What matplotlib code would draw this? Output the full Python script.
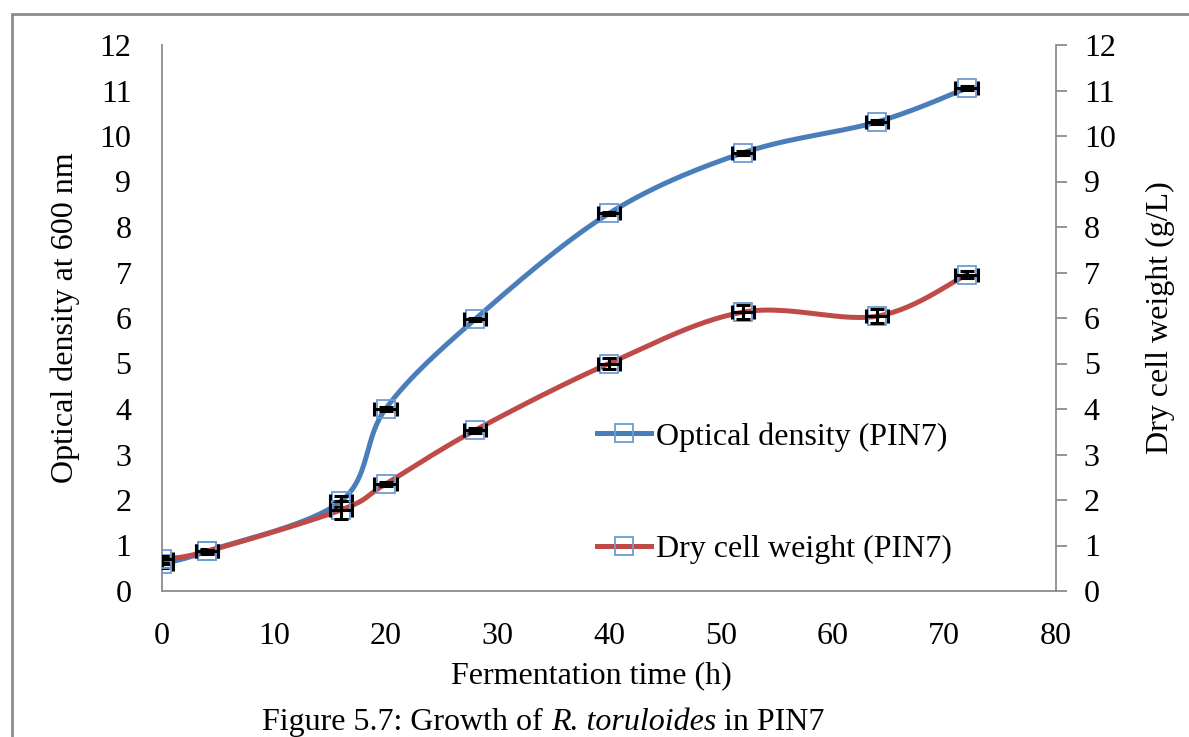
import numpy as np
import matplotlib
matplotlib.use('Agg')
import matplotlib.pyplot as plt
from matplotlib.lines import Line2D
from matplotlib.patches import Rectangle

plt.rcParams['font.family'] = ['Liberation Serif', 'DejaVu Serif']

# dados
tempo = [0, 4, 16, 20, 28, 40, 52, 64, 72]
od = [0.6, 0.87, 1.97, 4.0, 5.97, 8.3, 9.63, 10.31, 11.05]
dcw = [0.7, 0.87, 1.78, 2.35, 3.53, 5.0, 6.13, 6.04, 6.95]
od_err = [0.1, 0.05, 0.12, 0.05, 0.04, 0.04, 0.04, 0.05, 0.04]
dcw_err = [0.08, 0.04, 0.2, 0.05, 0.05, 0.13, 0.15, 0.15, 0.08]
tempo_err = [1, 1, 1, 1, 1, 1, 1, 1, 1]

x_ticks = [0, 10, 20, 30, 40, 50, 60, 70, 80]
y_ticks = list(range(0, 13))

azul = '#4A7EBB'
vermelho = '#BE4B48'
borda_marcador = '#6E9BD3'
cinza = '#8C8C8C'
fs = 23


def suavizar(x, y, sx, sy, n=30):
    # curva suavizada tipo Excel (Catmull-Rom) em escala de pixels
    px = np.asarray(x, float) * sx
    py = np.asarray(y, float) * sy
    pts = np.column_stack([px, py])
    pts = np.vstack([pts[0], pts, pts[-1]])
    saida = []
    for i in range(1, len(pts) - 2):
        p0, p1, p2, p3 = pts[i - 1], pts[i], pts[i + 1], pts[i + 2]
        c1 = p1 + (p2 - p0) / 6
        c2 = p2 - (p3 - p1) / 6
        t = np.linspace(0, 1, n)[:, None]
        b = ((1 - t) ** 3) * p1 + 3 * ((1 - t) ** 2) * t * c1 + 3 * (1 - t) * t ** 2 * c2 + t ** 3 * p2
        saida.append(b if i == 1 else b[1:])
    saida = np.vstack(saida)
    return saida[:, 0] / sx, saida[:, 1] / sy


fig = plt.figure(figsize=(11.89, 7.37), dpi=100)
W, H = 1189, 737
x0, x1, y0, y1 = 162, 1056, 591, 45
ax = fig.add_axes([x0 / W, (H - y0) / H, (x1 - x0) / W, (y0 - y1) / H])
ax2 = ax.twinx()

sx = (x1 - x0) / 80
sy = (y0 - y1) / 12

xs, ys = suavizar(tempo, od, sx, sy)
ax.plot(xs, ys, color=azul, lw=3.6, solid_capstyle='round', zorder=2)
xs, ys = suavizar(tempo, dcw, sx, sy)
ax2.plot(xs, ys, color=vermelho, lw=3.6, solid_capstyle='round', zorder=2)

ax.plot(tempo, od, ls='none', marker='s', ms=12.5, mfc='none', mec=borda_marcador, mew=1.3, zorder=3)
ax2.plot(tempo, dcw, ls='none', marker='s', ms=12.5, mfc='none', mec=borda_marcador, mew=1.3, zorder=3)

ax.errorbar(tempo, od, xerr=tempo_err, yerr=od_err, fmt='none', ecolor='black', elinewidth=2.2,
            capsize=5, capthick=2.2, zorder=4)
ax2.errorbar(tempo, dcw, xerr=tempo_err, yerr=dcw_err, fmt='none', ecolor='black', elinewidth=2.2,
             capsize=5, capthick=2.2, zorder=4)

for a in (ax, ax2):
    a.set_xlim(0, 80)
    a.set_ylim(0, 12)
    a.set_yticks(y_ticks)
    a.spines['top'].set_visible(False)
    for s in a.spines.values():
        s.set_color(cinza)
        s.set_linewidth(1.3)

ax.set_xticks(x_ticks)
ax.tick_params(axis='x', length=0, pad=22, labelsize=fs)
ax.tick_params(axis='y', length=0, pad=22, labelsize=fs, left=False)
ax2.tick_params(axis='y', length=8, width=1.3, color=cinza, pad=12, labelsize=fs)
ax2.spines['left'].set_visible(False)
ax2.spines['bottom'].set_visible(False)
ax.spines['right'].set_visible(False)

ax.set_xlabel('Fermentation time (h)', fontsize=fs)
ax.xaxis.label.set_va('center')
ax.xaxis.set_label_coords((591 - x0) / (x1 - x0), (y0 - 676) / (y0 - y1))
ax.set_ylabel('Optical density at 600 nm', fontsize=fs)
ax.yaxis.label.set_va('center')
ax.yaxis.set_label_coords((65 - x0) / (x1 - x0), 0.5)
ax2.set_ylabel('Dry cell weight (g/L)', fontsize=fs, rotation=90)
ax2.yaxis.label.set_va('center')
ax2.yaxis.set_label_coords((1160 - x0) / (x1 - x0), 0.5)

handles = [
    Line2D([], [], color=azul, lw=3.6, marker='s', ms=12.5, mfc='none', mec=borda_marcador, mew=1.3),
    Line2D([], [], color=vermelho, lw=3.6, marker='s', ms=12.5, mfc='none', mec=borda_marcador, mew=1.3),
]
leg = ax.legend(handles, ['Optical density (PIN7)', 'Dry cell weight (PIN7)'],
                loc='upper left', bbox_to_anchor=((597 - x0) / (x1 - x0), (y0 - 422) / (y0 - y1)),
                frameon=False, fontsize=fs, handlelength=1.7, handletextpad=0.15,
                labelspacing=2.6, borderpad=0, borderaxespad=0)
leg.set_zorder(5)

# moldura cinza da figura
fig.patches.append(Rectangle((12 / W, -0.2), 1.2, 1.2 - 14 / H, transform=fig.transFigure,
                             fill=False, edgecolor=cinza, lw=2))

# legenda da figura com parte em italico
r = fig.canvas.get_renderer()
yc = (H - 722) / H
xpos = 262 / W
partes = [('Figure 5.7: Growth of ', 'normal'), ('R. toruloides', 'italic'), (' in PIN7', 'normal')]
for txt, estilo in partes:
    t = fig.text(xpos, yc, txt, fontsize=fs, style=estilo, va='center', ha='left')
    bb = t.get_window_extent(renderer=r)
    xpos += bb.width / W

fig.savefig('out.png', dpi=100)
